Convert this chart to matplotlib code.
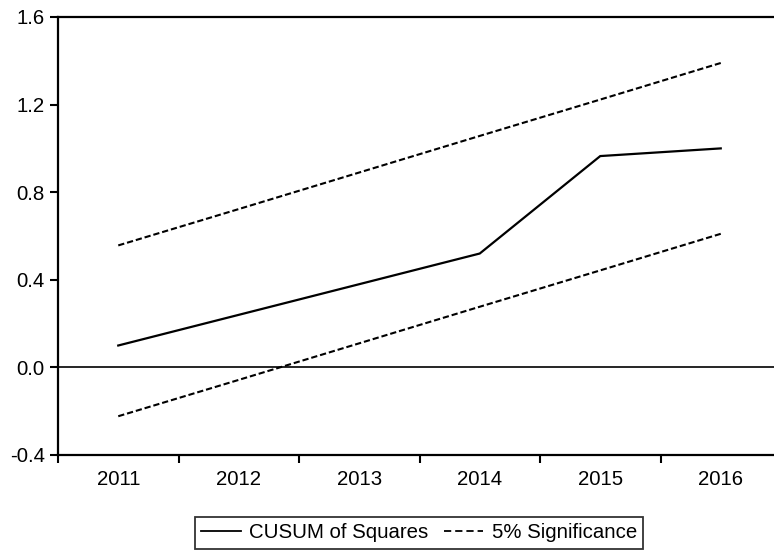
import matplotlib
matplotlib.use("Agg")
import matplotlib.pyplot as plt
from matplotlib.lines import Line2D

years = [2011, 2012, 2013, 2014, 2015, 2016]
cusum_sq = [0.10, 0.24, 0.38, 0.52, 0.965, 1.00]
upper_5pct = [0.557, 0.723, 0.890, 1.057, 1.223, 1.390]
lower_5pct = [-0.223, -0.057, 0.110, 0.277, 0.443, 0.610]
y_ticks = [-0.4, 0.0, 0.4, 0.8, 1.2, 1.6]
y_tick_labels = ["-0.4", "0.0", "0.4", "0.8", "1.2", "1.6"]

plt.rcParams["font.family"] = ["Liberation Sans", "DejaVu Sans"]

fig = plt.figure(figsize=(7.74, 5.51), dpi=100)
ax = fig.add_axes([58 / 774, 96 / 551, 723 / 774, 438 / 551])

dash = (0, (3.0, 1.4))
ax.plot(years, cusum_sq, color="black", lw=1.6, solid_joinstyle="miter")
ax.plot(years, upper_5pct, color="black", lw=1.5, linestyle=dash)
ax.plot(years, lower_5pct, color="black", lw=1.5, linestyle=dash)
ax.axhline(0.0, color="black", lw=1.2)

ax.set_xlim(years[0] - 0.5, years[-1] + 0.5)
ax.set_ylim(y_ticks[0], y_ticks[-1])

# boundaries between years carry the tick marks; year labels sit in between
ax.set_xticks([y - 0.5 for y in years] + [years[-1] + 0.5])
ax.set_xticklabels([])
ax.set_xticks(years, minor=True)
ax.set_xticklabels([str(y) for y in years], minor=True, fontsize=14.7)
ax.tick_params(axis="x", which="major", direction="out", length=6, width=1.5)
ax.tick_params(axis="x", which="minor", length=0, pad=10.5)

ax.set_yticks(y_ticks)
ax.set_yticklabels(y_tick_labels, fontsize=14.7)
ax.tick_params(axis="y", direction="out", length=6, width=1.5, pad=3.5)

for side in ["left", "top", "bottom"]:
    ax.spines[side].set_linewidth(1.6)
ax.spines["right"].set_visible(False)

handles = [
    Line2D([], [], color="black", lw=1.3),
    Line2D([], [], color="black", lw=1.3, linestyle=(0, (4.0, 2.2))),
]
leg = fig.legend(handles, ["CUSUM of Squares", "5% Significance"],
                 loc="center", bbox_to_anchor=(419 / 774, 1 - 533 / 551),
                 ncol=2, fontsize=14.7, frameon=True, fancybox=False,
                 handlelength=1.95, handletextpad=0.4, columnspacing=0.75,
                 borderpad=0.3)
leg.get_frame().set_edgecolor("black")
leg.get_frame().set_linewidth(1.3)

fig.savefig("out.png", dpi=100)
